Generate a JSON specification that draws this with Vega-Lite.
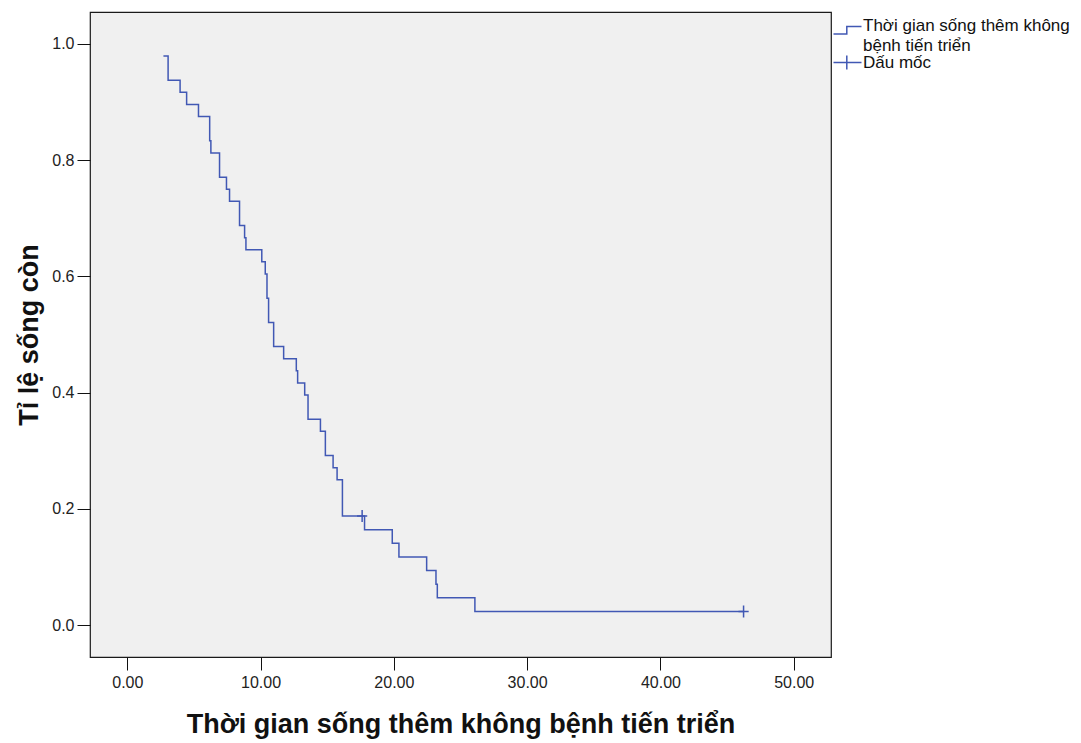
{
  "$schema": "https://vega.github.io/schema/vega-lite/v6.json",
  "width": 741,
  "height": 645,
  "autosize": {"type": "none"},
  "padding": {"left": 90, "top": 12, "right": 250, "bottom": 86},
  "background": "#ffffff",
  "datasets": {
    "curve": [
      {"t": 2.71, "s": 0.9792, "series": "Thời gian sống thêm không bệnh tiến triển"},
      {"t": 3.06, "s": 0.9375, "series": "Thời gian sống thêm không bệnh tiến triển"},
      {"t": 3.96, "s": 0.9167, "series": "Thời gian sống thêm không bệnh tiến triển"},
      {"t": 4.45, "s": 0.8958, "series": "Thời gian sống thêm không bệnh tiến triển"},
      {"t": 5.34, "s": 0.875, "series": "Thời gian sống thêm không bệnh tiến triển"},
      {"t": 6.18, "s": 0.8333, "series": "Thời gian sống thêm không bệnh tiến triển"},
      {"t": 6.27, "s": 0.8125, "series": "Thời gian sống thêm không bệnh tiến triển"},
      {"t": 6.92, "s": 0.7708, "series": "Thời gian sống thêm không bệnh tiến triển"},
      {"t": 7.44, "s": 0.75, "series": "Thời gian sống thêm không bệnh tiến triển"},
      {"t": 7.67, "s": 0.7292, "series": "Thời gian sống thêm không bệnh tiến triển"},
      {"t": 8.42, "s": 0.6875, "series": "Thời gian sống thêm không bệnh tiến triển"},
      {"t": 8.8, "s": 0.6667, "series": "Thời gian sống thêm không bệnh tiến triển"},
      {"t": 8.9, "s": 0.6458, "series": "Thời gian sống thêm không bệnh tiến triển"},
      {"t": 10.09, "s": 0.625, "series": "Thời gian sống thêm không bệnh tiến triển"},
      {"t": 10.35, "s": 0.6042, "series": "Thời gian sống thêm không bệnh tiến triển"},
      {"t": 10.48, "s": 0.5625, "series": "Thời gian sống thêm không bệnh tiến triển"},
      {"t": 10.6, "s": 0.5208, "series": "Thời gian sống thêm không bệnh tiến triển"},
      {"t": 10.98, "s": 0.4792, "series": "Thời gian sống thêm không bệnh tiến triển"},
      {"t": 11.73, "s": 0.4583, "series": "Thời gian sống thêm không bệnh tiến triển"},
      {"t": 12.68, "s": 0.4375, "series": "Thời gian sống thêm không bệnh tiến triển"},
      {"t": 12.78, "s": 0.4167, "series": "Thời gian sống thêm không bệnh tiến triển"},
      {"t": 13.31, "s": 0.3958, "series": "Thời gian sống thêm không bệnh tiến triển"},
      {"t": 13.56, "s": 0.3542, "series": "Thời gian sống thêm không bệnh tiến triển"},
      {"t": 14.49, "s": 0.3333, "series": "Thời gian sống thêm không bệnh tiến triển"},
      {"t": 14.86, "s": 0.2917, "series": "Thời gian sống thêm không bệnh tiến triển"},
      {"t": 15.44, "s": 0.2708, "series": "Thời gian sống thêm không bệnh tiến triển"},
      {"t": 15.74, "s": 0.25, "series": "Thời gian sống thêm không bệnh tiến triển"},
      {"t": 16.14, "s": 0.1875, "series": "Thời gian sống thêm không bệnh tiến triển"},
      {"t": 17.8, "s": 0.1641, "series": "Thời gian sống thêm không bệnh tiến triển"},
      {"t": 19.88, "s": 0.1406, "series": "Thời gian sống thêm không bệnh tiến triển"},
      {"t": 20.38, "s": 0.1172, "series": "Thời gian sống thêm không bệnh tiến triển"},
      {"t": 22.46, "s": 0.0938, "series": "Thời gian sống thêm không bệnh tiến triển"},
      {"t": 23.16, "s": 0.0703, "series": "Thời gian sống thêm không bệnh tiến triển"},
      {"t": 23.26, "s": 0.0469, "series": "Thời gian sống thêm không bệnh tiến triển"},
      {"t": 26.08, "s": 0.0234, "series": "Thời gian sống thêm không bệnh tiến triển"},
      {"t": 46.24, "s": 0.0234, "series": "Thời gian sống thêm không bệnh tiến triển"}
    ],
    "censor": [
      {"t": 17.62, "s": 0.1875, "series": "Dấu mốc"},
      {"t": 46.24, "s": 0.0234, "series": "Dấu mốc"}
    ]
  },
  "encoding": {
    "x": {
      "field": "t",
      "type": "quantitative",
      "scale": {"domain": [-2.8, 52.8], "nice": false, "zero": false},
      "axis": {
        "title": "Thời gian sống thêm không bệnh tiến triển",
        "values": [0, 10, 20, 30, 40, 50],
        "format": ".2f",
        "domain": false,
        "grid": false,
        "tickSize": 13,
        "tickColor": "#111111",
        "labelPadding": 4,
        "titlePadding": 21
      }
    },
    "y": {
      "field": "s",
      "type": "quantitative",
      "scale": {"domain": [-0.055, 1.055], "nice": false, "zero": false},
      "axis": {
        "title": "Tỉ lệ sống còn",
        "values": [0, 0.2, 0.4, 0.6, 0.8, 1.0],
        "format": ".1f",
        "domain": false,
        "grid": false,
        "tickSize": 13,
        "tickColor": "#111111",
        "labelPadding": 3,
        "titlePadding": 8
      }
    }
  },
  "layer": [
    {
      "data": {"name": "curve"},
      "mark": {"type": "line", "interpolate": "step-after", "color": "#4158b4", "strokeWidth": 1.5}
    },
    {
      "data": {"name": "censor"},
      "mark": {
        "type": "point",
        "shape": "M-0.85,0H0.85M0,-1V1",
        "size": 144,
        "filled": false,
        "color": "#4158b4",
        "strokeWidth": 1.5,
        "opacity": 1
      }
    },
    {
      "data": {"name": "censor"},
      "transform": [{"filter": "false"}],
      "mark": {"type": "point", "filled": false, "color": "#4158b4", "strokeWidth": 1.5, "opacity": 1},
      "encoding": {
        "shape": {
          "field": "series",
          "type": "nominal",
          "scale": {
            "domain": ["Thời gian sống thêm không", "bệnh tiến triển", "Dấu mốc"],
            "range": ["M-2,1.2H-0.1V0.15H2", "M0,0", "M-2,0H2M-0.1,-1V1"]
          },
          "legend": {
            "title": null,
            "orient": "none",
            "legendX": 749,
            "legendY": 5,
            "symbolSize": 196,
            "symbolStrokeColor": "#4158b4",
            "symbolFillColor": "transparent",
            "symbolStrokeWidth": 1.5,
            "symbolOpacity": 1,
            "labelFontSize": 17,
            "labelColor": "#111111",
            "labelOffset": 7,
            "labelLimit": 300,
            "rowPadding": -3,
            "padding": 0
          }
        }
      }
    }
  ],
  "config": {
    "font": "Liberation Sans",
    "view": {"fill": "#f0f0f0", "stroke": "#1a1a1a", "strokeWidth": 1.2},
    "axis": {
      "labelFont": "Liberation Sans",
      "labelFontSize": 16,
      "labelColor": "#222222",
      "titleFont": "Liberation Sans",
      "titleFontSize": 27,
      "titleFontWeight": "bold",
      "titleColor": "#111111"
    },
    "legend": {"labelFont": "Liberation Sans"}
  }
}
